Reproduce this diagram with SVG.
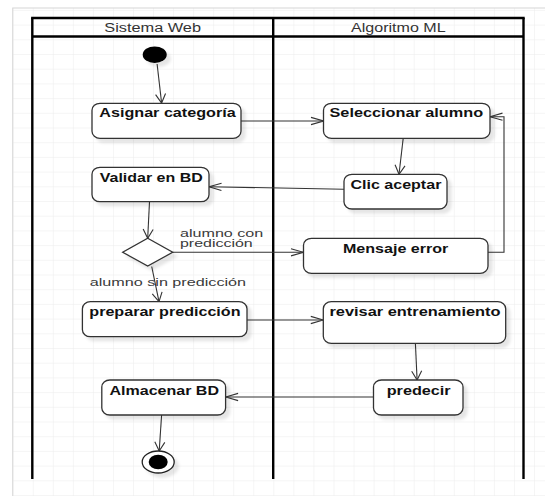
<svg xmlns="http://www.w3.org/2000/svg" width="545" height="496" viewBox="0 0 545 496">
  <style>
    .lane { stroke: #000; stroke-width: 2.4; fill: none; }
    .box { fill: #fff; stroke: #333; stroke-width: 1.3; }
    .lbl { font-family: "Liberation Sans", Arial, sans-serif; font-size: 13px; font-weight: bold; fill: #111; }
    .note { font-family: "Liberation Sans", Arial, sans-serif; font-size: 11.5px; fill: #3a3a3a; }
    .head { font-family: "Liberation Sans", Arial, sans-serif; font-size: 12.5px; fill: #333; }
    .edge { stroke: #333; stroke-width: 1.1; fill: none; }
    .edge.h { marker-end: url(#ah); }
    .edge.v { marker-end: url(#av); }
  </style>
  <defs>
    <pattern id="grid" x="12.7" y="9.9" width="20.05" height="14.7" patternUnits="userSpaceOnUse">
      <path d="M0,0 H20.05 M0,0 V14.7" stroke="#ebebeb" stroke-width="1" fill="none"/>
    </pattern>
    <filter id="shadow" x="-20%" y="-30%" width="150%" height="180%">
      <feGaussianBlur in="SourceAlpha" stdDeviation="1.5"/>
      <feOffset dx="4" dy="4" result="b"/>
      <feFlood flood-color="#000" flood-opacity="0.1"/>
      <feComposite in2="b" operator="in"/>
      <feMerge><feMergeNode/><feMergeNode in="SourceGraphic"/></feMerge>
    </filter>
    <!-- open arrowheads: long/flat for horizontal flows, short/wide for vertical flows -->
    <marker id="ah" viewBox="-1 -5 15 10" refX="12.5" refY="0" markerWidth="15" markerHeight="10" markerUnits="userSpaceOnUse" orient="auto">
      <path d="M0,-3.6 L12.5,0 L0,3.6" fill="none" stroke="#333" stroke-width="1.1"/>
    </marker>
    <marker id="av" viewBox="-1 -6 11 12" refX="9" refY="0" markerWidth="11" markerHeight="12" markerUnits="userSpaceOnUse" orient="auto">
      <path d="M0,-5 L9,0 L0,5" fill="none" stroke="#333" stroke-width="1.1"/>
    </marker>
  </defs>

  <!-- page -->
  <rect x="0" y="0" width="545" height="496" fill="#fff"/>
  <rect x="12.7" y="8" width="540" height="500" fill="url(#grid)" stroke="#d6d6d6" stroke-width="1"/>

  <!-- swimlanes -->
  <g id="lanes">
    <line class="lane" x1="31.1" y1="18" x2="524.7" y2="18"/>
    <line class="lane" x1="32.3" y1="36.5" x2="523.5" y2="36.5"/>
    <line class="lane" x1="32.3" y1="18" x2="32.3" y2="479"/>
    <line class="lane" x1="273.2" y1="18" x2="273.2" y2="479"/>
    <line class="lane" x1="523.5" y1="18" x2="523.5" y2="479"/>
    <text class="head" x="104.3" y="31.7" textLength="96.7" lengthAdjust="spacingAndGlyphs">Sistema Web</text>
    <text class="head" x="351" y="31.7" textLength="94.6" lengthAdjust="spacingAndGlyphs">Algoritmo ML</text>
  </g>

  <!-- connectors -->
  <g id="connectors">
    <line class="edge v" x1="157.1" y1="64" x2="161.6" y2="103"/>
    <line class="edge h" x1="241" y1="121" x2="323.5" y2="121"/>
    <line class="edge v" x1="403.2" y1="138.3" x2="399" y2="174.3"/>
    <line class="edge h" x1="344" y1="189.3" x2="209" y2="186.7"/>
    <line class="edge v" x1="149.5" y1="201.7" x2="147.7" y2="238.3"/>
    <line class="edge h" x1="172.7" y1="252.3" x2="303.5" y2="252.3"/>
    <polyline class="edge h" points="488,252.3 504,252.3 504,116.7 490,116.7"/>
    <line class="edge v" x1="151.7" y1="266.5" x2="159" y2="301.7"/>
    <line class="edge h" x1="247" y1="320" x2="323.3" y2="320"/>
    <line class="edge v" x1="415.4" y1="343.3" x2="417.1" y2="380"/>
    <line class="edge h" x1="373.5" y1="397" x2="225.6" y2="397"/>
    <line class="edge v" x1="161.6" y1="415" x2="159.2" y2="451"/>
    <text class="note" x="180" y="236.7" textLength="83.3" lengthAdjust="spacingAndGlyphs">alumno con</text>
    <text class="note" x="180" y="247.3" textLength="72.7" lengthAdjust="spacingAndGlyphs">predicción</text>
    <text class="note" x="89.7" y="286" textLength="156.4" lengthAdjust="spacingAndGlyphs">alumno sin predicción</text>
  </g>

  <!-- nodes -->
  <g id="start">
    <ellipse cx="154.7" cy="54.7" rx="12" ry="8.3" fill="#000" filter="url(#shadow)"/>
  </g>
  <g id="asignar">
    <rect class="box" x="92" y="103.3" width="149" height="35" rx="8" ry="7" filter="url(#shadow)"/>
    <text class="lbl" x="99.3" y="117.3" textLength="136.4" lengthAdjust="spacingAndGlyphs">Asignar categoría</text>
  </g>
  <g id="seleccionar">
    <rect class="box" x="323.5" y="103.3" width="166.5" height="35" rx="8" ry="7" filter="url(#shadow)"/>
    <text class="lbl" x="329.5" y="117.3" textLength="153.6" lengthAdjust="spacingAndGlyphs">Seleccionar alumno</text>
  </g>
  <g id="clic">
    <rect class="box" x="344" y="174.3" width="103" height="34.7" rx="8" ry="7" filter="url(#shadow)"/>
    <text class="lbl" x="350.4" y="189.3" textLength="91" lengthAdjust="spacingAndGlyphs">Clic aceptar</text>
  </g>
  <g id="validar">
    <rect class="box" x="92" y="167.3" width="117" height="34.4" rx="8" ry="7" filter="url(#shadow)"/>
    <text class="lbl" x="99.8" y="181.7" textLength="102.9" lengthAdjust="spacingAndGlyphs">Validar en BD</text>
  </g>
  <g id="decision">
    <polygon class="box" points="147.7,238.3 172.7,252.2 147.7,266 122.7,252.2" filter="url(#shadow)"/>
  </g>
  <g id="mensaje">
    <rect class="box" x="303.5" y="238.3" width="184.5" height="35" rx="8" ry="7" filter="url(#shadow)"/>
    <text class="lbl" x="343" y="253.3" textLength="105.3" lengthAdjust="spacingAndGlyphs">Mensaje error</text>
  </g>
  <g id="preparar">
    <rect class="box" x="82.4" y="301.7" width="164.6" height="35" rx="8" ry="7" filter="url(#shadow)"/>
    <text class="lbl" x="89.3" y="316" textLength="151.2" lengthAdjust="spacingAndGlyphs">preparar predicción</text>
  </g>
  <g id="revisar">
    <rect class="box" x="323.3" y="301.7" width="182.4" height="41.6" rx="8" ry="7" filter="url(#shadow)"/>
    <text class="lbl" x="329.5" y="316" textLength="171" lengthAdjust="spacingAndGlyphs">revisar entrenamiento</text>
  </g>
  <g id="predecir">
    <rect class="box" x="373.5" y="380" width="89.5" height="35" rx="8" ry="7" filter="url(#shadow)"/>
    <text class="lbl" x="386.7" y="394.5" textLength="64" lengthAdjust="spacingAndGlyphs">predecir</text>
  </g>
  <g id="almacenar">
    <rect class="box" x="101.8" y="380" width="123.8" height="35" rx="8" ry="7" filter="url(#shadow)"/>
    <text class="lbl" x="109.5" y="394.5" textLength="109.5" lengthAdjust="spacingAndGlyphs">Almacenar BD</text>
  </g>
  <g id="end">
    <ellipse cx="158.2" cy="462" rx="16" ry="11" fill="#fff" stroke="#222" stroke-width="1.3" filter="url(#shadow)"/>
    <ellipse cx="158.2" cy="462" rx="9.5" ry="7.3" fill="#000"/>
  </g>
</svg>
